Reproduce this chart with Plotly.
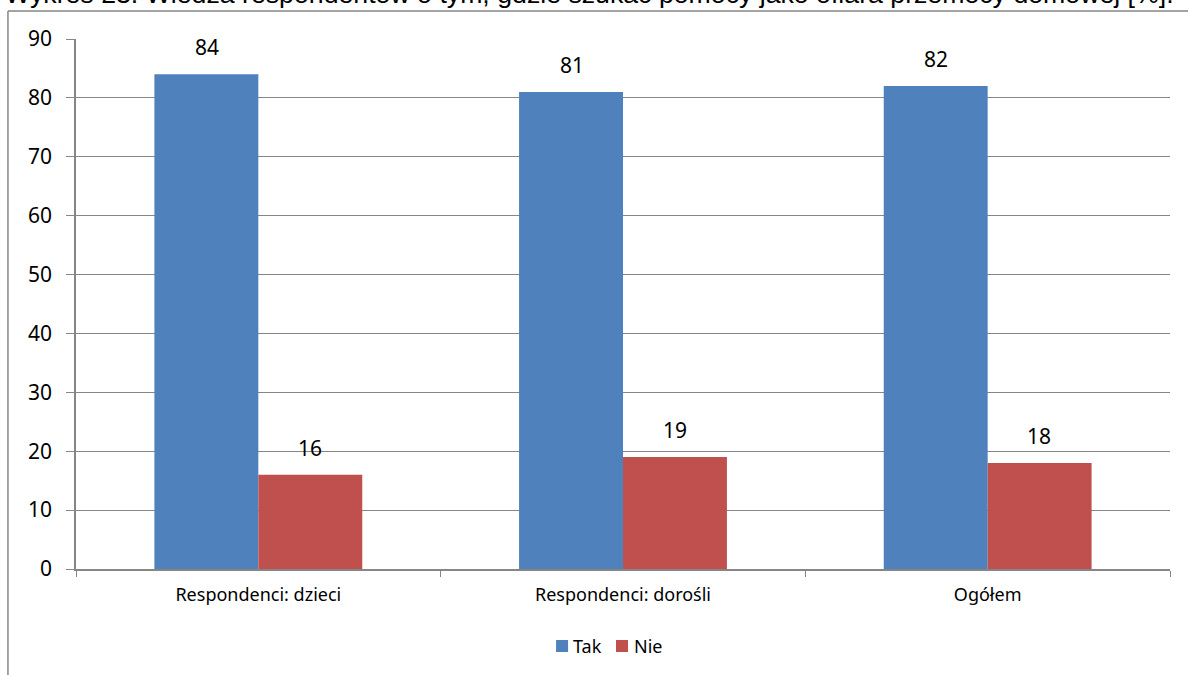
import plotly.graph_objects as go

categories = ["Respondenci: dzieci", "Respondenci: dorośli", "Ogółem"]
tak_values = [84, 81, 82]
nie_values = [16, 19, 18]
series_names = ["Tak", "Nie"]
y_ticks = [0, 10, 20, 30, 40, 50, 60, 70, 80, 90]
title_text = "Wykres 23. Wiedza respondentów o tym, gdzie szukać pomocy jako ofiara przemocy domowej [%]."

BLUE = "#4F81BD"
RED = "#C0504D"
GRID = "#868686"
FONT = "Noto Sans"

fig = go.Figure()
fig.add_trace(go.Bar(name=series_names[0], x=categories, y=tak_values,
                     marker=dict(color=BLUE, line=dict(width=0))))
fig.add_trace(go.Bar(name=series_names[1], x=categories, y=nie_values,
                     marker=dict(color=RED, line=dict(width=0))))

# value labels above bars
group_half = 51.5  # px offset of each bar centre from category centre
for vals, shift in ((tak_values, -group_half), (nie_values, group_half)):
    for c, v in zip(categories, vals):
        fig.add_annotation(x=c, y=v, text=str(v), showarrow=False,
                           xshift=shift, yshift=27, yanchor="middle",
                           font=dict(family=FONT, size=21, color="black"))

# title (partly cut off at the top of the page, as in the original)
fig.add_annotation(xref="paper", yref="paper", x=0.469, y=1.0855,
                   xanchor="center", yanchor="middle", showarrow=False,
                   text=title_text,
                   font=dict(family="Liberation Sans", size=26.7, color="black"))

# outer chart frame (left and top edges)
fig.add_shape(type="line", xref="paper", yref="paper",
              x0=-0.0622, x1=-0.0622, y0=-0.3, y1=1.0528,
              line=dict(color=GRID, width=1.5))
fig.add_shape(type="line", xref="paper", yref="paper",
              x0=-0.0622, x1=1.1, y0=1.0528, y1=1.0528,
              line=dict(color=GRID, width=1.5))

# legend (drawn manually to match the original spacing)
legend_items = [(series_names[0], BLUE, 0.4388, 0.4525),
                (series_names[1], RED, 0.4936, 0.5082)]
for name, col, sx, tx in legend_items:
    fig.add_shape(type="rect", xref="paper", yref="paper",
                  x0=sx, x1=sx + 0.011, y0=-0.1566, y1=-0.134,
                  fillcolor=col, line=dict(width=0))
    fig.add_annotation(xref="paper", yref="paper", x=tx, y=-0.1453,
                       xanchor="left", yanchor="middle", showarrow=False,
                       text=name, font=dict(family=FONT, size=18, color="black"))

fig.update_layout(
    width=1188, height=675,
    margin=dict(l=76, r=18, t=39, b=106),
    paper_bgcolor="white", plot_bgcolor="white",
    barmode="group", bargap=0.43, bargroupgap=0,
    showlegend=False,
    font=dict(family=FONT, color="black"),
)
fig.update_yaxes(range=[0, 90], tickvals=y_ticks, showgrid=True,
                 gridcolor=GRID, gridwidth=1.3, showline=True, linecolor=GRID,
                 linewidth=1.5, ticks="outside", ticklen=8, tickcolor=GRID,
                 ticklabelstandoff=10,
                 tickfont=dict(family=FONT, size=21, color="black"),
                 zeroline=False)
fig.update_xaxes(showline=True, linecolor=GRID, linewidth=1.5,
                 ticks="outside", ticklen=6, tickcolor=GRID,
                 tickson="boundaries", ticklabelstandoff=9,
                 tickfont=dict(family=FONT, size=18, color="black"))

fig.write_html("out.html", config={"displayModeBar": False},
               post_script="document.body.style.margin='0';document.body.style.overflow='hidden';")
